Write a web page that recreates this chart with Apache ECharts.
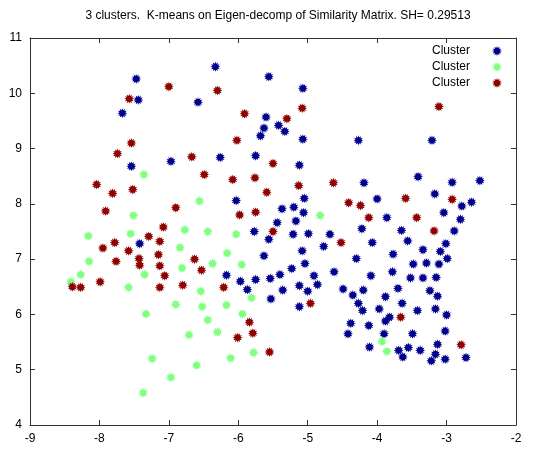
<!DOCTYPE html>
<html><head><meta charset="utf-8">
<script src="https://cdn.jsdelivr.net/npm/echarts@6/dist/echarts.min.js"></script>
<style>html,body{margin:0;padding:0;background:#fff}#c{width:536px;height:452px}</style>
</head><body><div id="c"></div>
<script>
const titleText = '3 clusters.  K-means on Eigen-decomp of Similarity Matrix. SH= 0.29513';
const legendNames = ['Cluster', 'Cluster', 'Cluster'];
const xTicks = [-9, -8, -7, -6, -5, -4, -3, -2];
const yTicks = [4, 5, 6, 7, 8, 9, 10, 11];

const cluster1 = [
[-7.47,10.26],[-7.44,9.88],[-6.58,9.84],[-7.67,9.64],[-7.54,8.68],[-6.97,8.77],[-7.42,7.28],
[-6.33,10.48],[-5.56,10.30],[-5.07,10.09],[-5.60,9.57],[-5.42,9.42],[-5.63,9.37],[-5.33,9.31],
[-5.68,9.23],[-5.07,9.17],[-6.26,8.84],[-5.75,8.87],[-5.12,8.70],[-4.27,9.15],[-3.21,9.15],
[-4.19,8.38],[-3.41,8.49],[-2.92,8.39],[-2.52,8.42],[-5.05,8.10],[-6.03,8.06],[-5.37,7.91],
[-5.20,7.94],[-5.06,7.84],[-5.17,7.69],[-5.44,7.66],[-5.77,7.50],[-5.56,7.36],[-5.21,7.45],
[-4.99,7.46],[-4.68,7.45],[-4.77,7.23],[-5.08,7.15],[-5.63,7.06],[-5.04,6.92],[-5.23,6.83],
[-4.62,6.77],[-6.17,6.71],[-5.40,6.72],[-4.91,6.70],[-5.97,6.60],[-5.75,6.63],[-5.54,6.65],
[-5.12,6.52],[-4.86,6.54],[-4.49,6.46],[-5.87,6.45],[-5.36,6.44],[-5.00,6.42],[-5.53,6.28],
[-5.12,6.14],[-4.00,8.09],[-3.17,8.18],[-2.78,7.96],[-2.64,8.03],[-3.86,7.75],[-3.04,7.84],
[-2.80,7.72],[-4.22,7.55],[-3.65,7.52],[-2.89,7.51],[-4.07,7.30],[-3.56,7.33],[-3.01,7.28],
[-3.34,7.17],[-3.09,7.14],[-3.77,7.09],[-2.99,7.01],[-4.30,7.01],[-3.48,6.91],[-3.29,6.93],
[-3.11,6.91],[-3.78,6.77],[-4.09,6.70],[-3.52,6.66],[-3.34,6.66],[-3.15,6.67],[-4.20,6.44],
[-3.70,6.47],[-3.24,6.43],[-4.35,6.35],[-3.88,6.32],[-3.13,6.33],[-4.27,6.20],[-4.21,6.07],
[-3.97,6.10],[-3.64,6.20],[-3.42,6.07],[-3.16,6.10],[-3.00,5.99],[-3.82,5.95],[-3.88,5.88],
[-4.38,5.84],[-4.12,5.80],[-4.42,5.65],[-3.90,5.65],[-3.49,5.65],[-3.02,5.70],[-4.11,5.41],
[-3.69,5.35],[-3.55,5.40],[-3.63,5.23],[-3.38,5.35],[-3.13,5.46],[-3.16,5.28],[-3.22,5.16],
[-3.02,5.19],[-2.72,5.22]
];
const cluster2 = [
[-7.36,8.53],[-6.56,8.05],[-7.51,7.79],[-8.16,7.42],[-7.55,7.46],[-6.77,7.53],[-6.84,7.21],
[-8.15,6.96],[-6.81,6.84],[-8.27,6.72],[-7.35,6.72],[-8.41,6.59],[-7.58,6.49],[-6.54,6.42],
[-6.90,6.18],[-7.33,6.01],[-6.52,6.14],[-6.71,5.63],[-6.60,5.08],[-7.24,5.20],[-6.97,4.86],
[-7.37,4.58],[-6.17,6.17],[-5.81,6.30],[-6.44,5.90],[-5.94,6.01],[-6.30,5.68],[-5.78,5.31],
[-6.11,5.21],[-4.82,7.79],[-6.44,7.50],[-6.03,7.45],[-6.16,7.11],[-6.37,6.92],[-5.95,6.90],
[-3.93,5.51],[-3.86,5.33]
];
const cluster3 = [
[-7.00,10.12],[-7.57,9.90],[-7.54,9.10],[-7.74,8.91],[-6.67,8.85],[-8.04,8.35],[-7.81,8.19],
[-7.52,8.26],[-7.91,7.87],[-6.90,7.93],[-7.29,7.41],[-7.08,7.58],[-7.78,7.30],[-7.95,7.20],
[-7.58,7.15],[-7.13,7.32],[-7.15,7.08],[-7.43,7.01],[-7.42,6.89],[-7.76,6.96],[-7.13,6.88],
[-6.63,7.00],[-6.53,6.80],[-7.06,6.70],[-8.39,6.50],[-8.27,6.49],[-7.99,6.59],[-7.13,6.49],
[-6.80,6.53],[-6.30,10.05],[-5.91,9.63],[-5.30,9.54],[-5.08,9.73],[-6.02,9.15],[-5.50,8.73],
[-6.49,8.53],[-6.08,8.44],[-5.76,8.47],[-5.59,8.21],[-5.13,8.33],[-4.63,8.38],[-4.41,8.02],
[-4.24,7.97],[-5.98,7.80],[-5.75,7.85],[-5.50,7.50],[-4.52,7.30],[-6.21,6.49],[-4.96,6.20],
[-5.84,5.86],[-5.79,5.66],[-6.01,5.58],[-5.55,5.32],[-3.59,8.10],[-2.92,8.08],[-4.12,7.75],
[-3.43,7.75],[-3.18,7.51],[-3.11,9.76],[-3.66,5.95],[-2.79,5.45]
];
const colors = ['#00008f', '#80ff80', '#8f0000'];

// star-burst marker path
function burst(n, ro, ri) {
  let d = '';
  for (let i = 0; i < n * 2; i++) {
    const r = i % 2 === 0 ? ro : ri;
    const a = Math.PI * i / n;
    const x = (50 + r * Math.sin(a)).toFixed(2), y = (50 - r * Math.cos(a)).toFixed(2);
    d += (i === 0 ? 'M' : 'L') + x + ' ' + y + ' ';
  }
  return 'path://' + d + 'Z';
}
const sym = burst(12, 50, 30);

const chart = echarts.init(document.getElementById('c'), null, {renderer: 'canvas'});
const font = 'Liberation Sans, Arial, sans-serif';
const axisLine = {show: true, lineStyle: {color: '#333', width: 1}};
const axisTick = {show: true, inside: true, length: 5, lineStyle: {color: '#333'}};
const names = ['Cluster', 'Cluster\u200b', 'Cluster\u200b\u200b'];
const datas = [cluster1, cluster2, cluster3];

chart.setOption({
  animation: false,
  backgroundColor: '#fff',
  title: {text: titleText, left: 273, top: 5, textAlign: 'center',
    textStyle: {fontFamily: font, fontSize: 12, fontWeight: 'normal', color: '#000'}},
  legend: {
    orient: 'vertical', right: 29, top: 40, align: 'right',
    itemWidth: 10, itemHeight: 10, itemGap: 4,
    data: names.map((n, i) => ({name: n, icon: sym})),
    formatter: (n) => legendNames[names.indexOf(n)],
    textStyle: {fontFamily: font, fontSize: 12, color: '#000', padding: [0, 17, 0, 0]},
    selectedMode: false
  },
  grid: {left: 30, right: 20, top: 38, bottom: 27},
  xAxis: [
    {type: 'value', min: -9, max: -2, interval: 1, position: 'bottom',
      axisLine, axisTick, splitLine: {show: false},
      axisLabel: {fontFamily: font, fontSize: 12, color: '#000', margin: 8,
        formatter: (v) => xTicks.includes(v) ? String(v) : ''}},
    {type: 'value', min: -9, max: -2, interval: 1, position: 'top',
      axisLine, axisTick, splitLine: {show: false}, axisLabel: {show: false}}
  ],
  yAxis: [
    {type: 'value', min: 4, max: 11, interval: 1, position: 'left',
      axisLine, axisTick, splitLine: {show: false},
      axisLabel: {fontFamily: font, fontSize: 12, color: '#000', margin: 8,
        formatter: (v) => yTicks.includes(v) ? String(v) : ''}},
    {type: 'value', min: 4, max: 11, interval: 1, position: 'right',
      axisLine, axisTick, splitLine: {show: false}, axisLabel: {show: false}}
  ],
  series: datas.map((d, i) => ({
    name: names[i], type: 'scatter', data: d, symbol: sym, symbolSize: 10,
    itemStyle: {color: colors[i], opacity: 1}
  }))
});
</script></body></html>
